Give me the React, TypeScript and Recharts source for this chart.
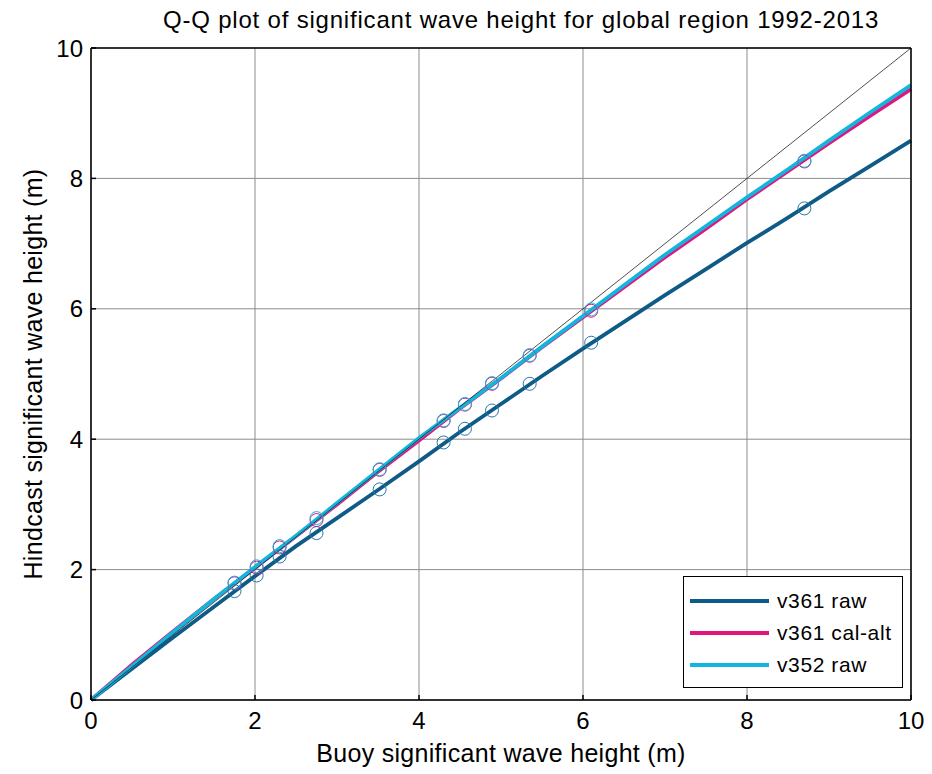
import React from "react";
import {
  CartesianGrid,
  ComposedChart,
  Line,
  Scatter,
  XAxis,
  YAxis,
} from "recharts";

// buoy Hs (m) sample points along the quantile curves
const buoyHs = [0, 0.5, 1, 1.5, 2, 2.5, 3, 3.5, 4, 4.5, 5, 5.5, 6, 6.5, 7, 7.5, 8, 8.5, 9, 9.5, 10];
const v361Raw = [0, 0.48, 0.96, 1.43, 1.9, 2.36, 2.79, 3.22, 3.66, 4.11, 4.54, 4.97, 5.39, 5.8, 6.21, 6.61, 7.01, 7.4, 7.8, 8.19, 8.58];
const v361CalAlt = [0, 0.54, 1.05, 1.55, 2.03, 2.51, 3.0, 3.5, 3.98, 4.47, 4.93, 5.41, 5.87, 6.33, 6.79, 7.23, 7.68, 8.11, 8.54, 8.96, 9.37];
const v352Raw = [0, 0.52, 1.04, 1.55, 2.04, 2.52, 3.02, 3.52, 4.02, 4.48, 4.94, 5.42, 5.89, 6.36, 6.83, 7.27, 7.71, 8.14, 8.58, 9.01, 9.43];

// percentile markers
const markerBuoy = [1.75, 2.02, 2.3, 2.75, 3.52, 4.3, 4.56, 4.89, 5.35, 6.1, 8.7];
const markerV361Raw = [1.67, 1.91, 2.2, 2.56, 3.23, 3.95, 4.16, 4.44, 4.85, 5.48, 7.54];
const markerV361CalAlt = [1.79, 2.03, 2.34, 2.76, 3.53, 4.28, 4.53, 4.85, 5.28, 5.97, 8.26];
const markerV352Raw = [1.8, 2.05, 2.36, 2.79, 3.54, 4.29, 4.54, 4.86, 5.29, 5.99, 8.27];

const axisTicks = [0, 2, 4, 6, 8, 10];
const identity = [0, 10];

const C_RAW = "#0d5b86";
const C_CAL = "#e3147c";
const C_352 = "#12b5de";
const FONT = "'Liberation Sans', Arial, sans-serif";

const pairs = (xs: number[], ys: number[]) => xs.map((x, i) => ({ x, y: ys[i] }));

const series = [
  { name: "v361 raw", color: C_RAW, line: pairs(buoyHs, v361Raw), marks: pairs(markerBuoy, markerV361Raw), markColor: "#2a78a8" },
  { name: "v361 cal-alt", color: C_CAL, line: pairs(buoyHs, v361CalAlt), marks: pairs(markerBuoy, markerV361CalAlt), markColor: C_CAL },
  { name: "v352 raw", color: C_352, line: pairs(buoyHs, v352Raw), marks: pairs(markerBuoy, markerV352Raw), markColor: C_352 },
];

function ringShape(color: string) {
  return (p: any) => (
    <circle cx={p.cx} cy={p.cy} r={6.5} fill="none" stroke={color} strokeWidth={1} />
  );
}

function LegendBox() {
  return (
    <div
      style={{
        position: "absolute",
        left: 683,
        top: 576,
        width: 220,
        height: 112,
        boxSizing: "border-box",
        border: "1.5px solid #000",
        background: "#fff",
        paddingTop: 8,
        fontFamily: FONT,
        fontSize: 21,
        letterSpacing: 0.6,
      }}
    >
      {series.map((s) => (
        <div key={s.name} style={{ display: "flex", alignItems: "center", height: 32 }}>
          <span style={{ display: "inline-block", marginLeft: 6, width: 79, height: 3.5, background: s.color }} />
          <span style={{ marginLeft: 8 }}>{s.name}</span>
        </div>
      ))}
    </div>
  );
}

const tickFont = { fill: "#000", fontSize: 24, fontFamily: FONT };
const labelFont = { fill: "#000", fontSize: 25, fontFamily: FONT, letterSpacing: 0.3 };

export default function App() {
  return (
    <div style={{ position: "absolute", left: 0, top: 0, width: 932, height: 774, background: "#fff" }}>
      <ComposedChart width={932} height={774} margin={{ top: 28, right: 20, bottom: 44, left: 31 }}>
        <CartesianGrid stroke="#8c8c8c" strokeWidth={1} />
        <XAxis
          xAxisId={0}
          dataKey="x"
          type="number"
          domain={[0, 10]}
          ticks={axisTicks}
          height={30}
          tickSize={-5}
          tickMargin={17}
          stroke="#000"
          strokeWidth={1.5}
          tick={tickFont}
          label={{ value: "Buoy significant wave height (m)", position: "bottom", offset: 14, style: labelFont }}
        />
        <XAxis
          xAxisId="top"
          orientation="top"
          dataKey="x"
          type="number"
          domain={[0, 10]}
          ticks={axisTicks}
          height={20}
          tickSize={-5}
          tick={false}
          stroke="#000"
          strokeWidth={1.5}
        />
        <YAxis
          yAxisId={0}
          type="number"
          domain={[0, 10]}
          ticks={axisTicks}
          width={60}
          tickSize={-5}
          tickMargin={13}
          stroke="#000"
          strokeWidth={1.5}
          tick={tickFont}
          label={{ value: "Hindcast significant wave height (m)", angle: -90, position: "insideLeft", offset: 2, style: { textAnchor: "middle", ...labelFont } }}
        />
        <YAxis
          yAxisId="right"
          orientation="right"
          type="number"
          domain={[0, 10]}
          ticks={axisTicks}
          width={1}
          tickSize={-5}
          tick={false}
          stroke="#000"
          strokeWidth={1.5}
        />
        {series.map((s) => (
          <Line
            key={s.name}
            data={s.line}
            dataKey="y"
            name={s.name}
            type="linear"
            stroke={s.color}
            strokeWidth={3.8}
            dot={false}
            activeDot={false}
            isAnimationActive={false}
          />
        ))}
        <Line
          data={pairs(identity, identity)}
          dataKey="y"
          name="1:1"
          type="linear"
          stroke="#222"
          strokeWidth={0.8}
          dot={false}
          activeDot={false}
          isAnimationActive={false}
        />
        {series.map((s) => (
          <Scatter
            key={s.name + "-q"}
            data={s.marks}
            dataKey="y"
            shape={ringShape(s.markColor)}
            isAnimationActive={false}
          />
        ))}
      </ComposedChart>
      <div
        style={{
          position: "absolute",
          left: 163,
          top: 7,
          whiteSpace: "nowrap",
          fontFamily: FONT,
          fontSize: 24,
          lineHeight: "26px",
          letterSpacing: 0.8,
        }}
      >
        Q-Q plot of significant wave height for global region 1992-2013
      </div>
      <LegendBox />
    </div>
  );
}
